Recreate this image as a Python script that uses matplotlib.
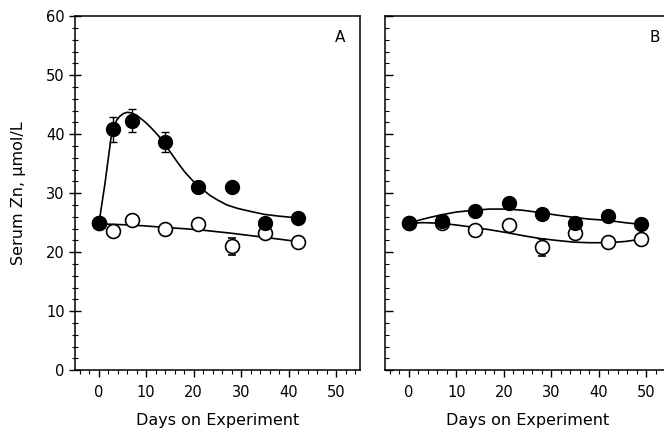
import matplotlib.pyplot as plt
from matplotlib.ticker import MultipleLocator

plt.switch_backend("agg")
plt.rcParams["font.family"] = ["DejaVu Sans"]

# panel A: observed means (filled = supplemented, open = control)
days_a = [0, 3, 7, 14, 21, 28, 35, 42]
filled_a = [24.9, 40.8, 42.3, 38.6, 31.0, 31.1, 24.9, 25.8]
filled_a_err = [0, 2.1, 2.0, 1.7, 0, 0, 0, 0]
open_a = [24.9, 23.6, 25.4, 24.0, 24.7, 21.0, 23.2, 21.8]
open_a_err = [0, 0, 0, 0, 0, 1.4, 0, 0]

# panel A fitted curves
curve_a_days = [0, 1.3, 2.6, 3.2, 3.8, 4.4, 5.2, 6.0, 6.9, 8.0, 9.7, 11.0,
                12.5, 13.9, 15.3, 16.7, 18.1, 19.8, 21.6, 23.3, 25.1, 27.0,
                29.3, 32.0, 34.9, 38.0, 42]
curve_a_filled = [24.7, 31.6, 39.5, 41.2, 42.4, 43.0, 43.5, 43.7, 43.6,
                  43.2, 42.1, 41.1, 39.8, 38.3, 36.7, 35.1, 33.6, 32.1, 30.8,
                  29.7, 28.8, 28.0, 27.4, 26.9, 26.4, 26.1, 25.8]
curve_a_open_days = [0, 7, 14, 21, 28, 35, 42]
curve_a_open = [24.8, 24.6, 24.2, 23.8, 23.2, 22.5, 21.8]

# panel B
days_b = [0, 7, 14, 21, 28, 35, 42, 49]
filled_b = [24.9, 25.3, 26.9, 28.4, 26.4, 25.0, 26.1, 24.7]
open_b = [24.9, 25.0, 23.7, 24.6, 20.8, 23.2, 21.7, 22.2]
open_b_err = [0, 0, 0, 0, 1.4, 0, 0, 0]

curve_b_days = [0, 2.5, 4.5, 6.7, 10, 13.7, 17, 20.7, 24, 27.7, 31, 34.7,
                38, 41.7, 45.5, 49]
curve_b_filled = [24.9, 25.5, 25.9, 26.3, 26.8, 27.1, 27.3, 27.3, 27.1,
                  26.7, 26.3, 25.9, 25.6, 25.4, 25.0, 24.7]
curve_b_open_days = [0, 3, 6.7, 10, 13.7, 17, 20.7, 24, 27.7, 31, 34.7, 38,
                     41.7, 45.5, 49]
curve_b_open = [24.9, 25.0, 24.9, 24.6, 24.2, 23.8, 23.3, 22.8, 22.3, 22.0,
                21.7, 21.6, 21.6, 21.8, 22.2]

fig = plt.figure(figsize=(6.64, 4.37), dpi=100)
ax_a = fig.add_axes([0.113, 0.153, 0.429, 0.810])
ax_b = fig.add_axes([0.580, 0.153, 0.429, 0.810])

ms = 10
for ax in (ax_a, ax_b):
    ax.set_xlim(-5, 55)
    ax.set_ylim(0, 60)
    ax.xaxis.set_major_locator(MultipleLocator(10))
    ax.xaxis.set_minor_locator(MultipleLocator(2))
    ax.yaxis.set_major_locator(MultipleLocator(10))
    ax.yaxis.set_minor_locator(MultipleLocator(2))
    ax.tick_params(axis="x", which="major", direction="out", length=5,
                   width=1, labelsize=10.5, pad=6)
    ax.tick_params(axis="x", which="minor", direction="out", length=3,
                   width=0.8)
    ax.set_xlabel("Days on Experiment", fontsize=11.5, labelpad=9)
    for s in ax.spines.values():
        s.set_linewidth(1.1)

ax_a.tick_params(axis="y", which="major", direction="inout", length=8,
                 width=1, labelsize=10.5)
ax_a.tick_params(axis="y", which="minor", direction="inout", length=4,
                 width=0.8)
ax_a.set_ylabel("Serum Zn, \u00b5mol/L", fontsize=11.5, labelpad=14)
ax_b.tick_params(axis="y", which="major", direction="in", length=6, width=1,
                 labelleft=False)
ax_b.tick_params(axis="y", which="minor", direction="in", length=3, width=0.8)

# panel A
ax_a.plot(curve_a_days, curve_a_filled, color="k", lw=1.2, zorder=2)
ax_a.plot(curve_a_open_days, curve_a_open, color="k", lw=1.2, zorder=2)
ax_a.errorbar(days_a, open_a, yerr=open_a_err, fmt="o", ms=ms, mfc="white",
              mec="k", mew=1.2, ecolor="k", elinewidth=1, capsize=3, zorder=3)
ax_a.errorbar(days_a, filled_a, yerr=filled_a_err, fmt="o", ms=ms, mfc="k",
              mec="k", ecolor="k", elinewidth=1, capsize=3, zorder=4)
ax_a.text(0.93, 0.94, "A", transform=ax_a.transAxes, ha="center",
          va="center", fontsize=11)

# panel B
ax_b.plot(curve_b_days, curve_b_filled, color="k", lw=1.2, zorder=2)
ax_b.plot(curve_b_open_days, curve_b_open, color="k", lw=1.2, zorder=2)
ax_b.errorbar(days_b, open_b, yerr=open_b_err, fmt="o", ms=ms, mfc="white",
              mec="k", mew=1.2, ecolor="k", elinewidth=1, capsize=3, zorder=3)
ax_b.plot(days_b, filled_b, "o", ms=ms, mfc="k", mec="k", zorder=4)
ax_b.text(0.947, 0.94, "B", transform=ax_b.transAxes, ha="center",
          va="center", fontsize=11)

fig.savefig("out.png", dpi=100)
plt.close(fig)
